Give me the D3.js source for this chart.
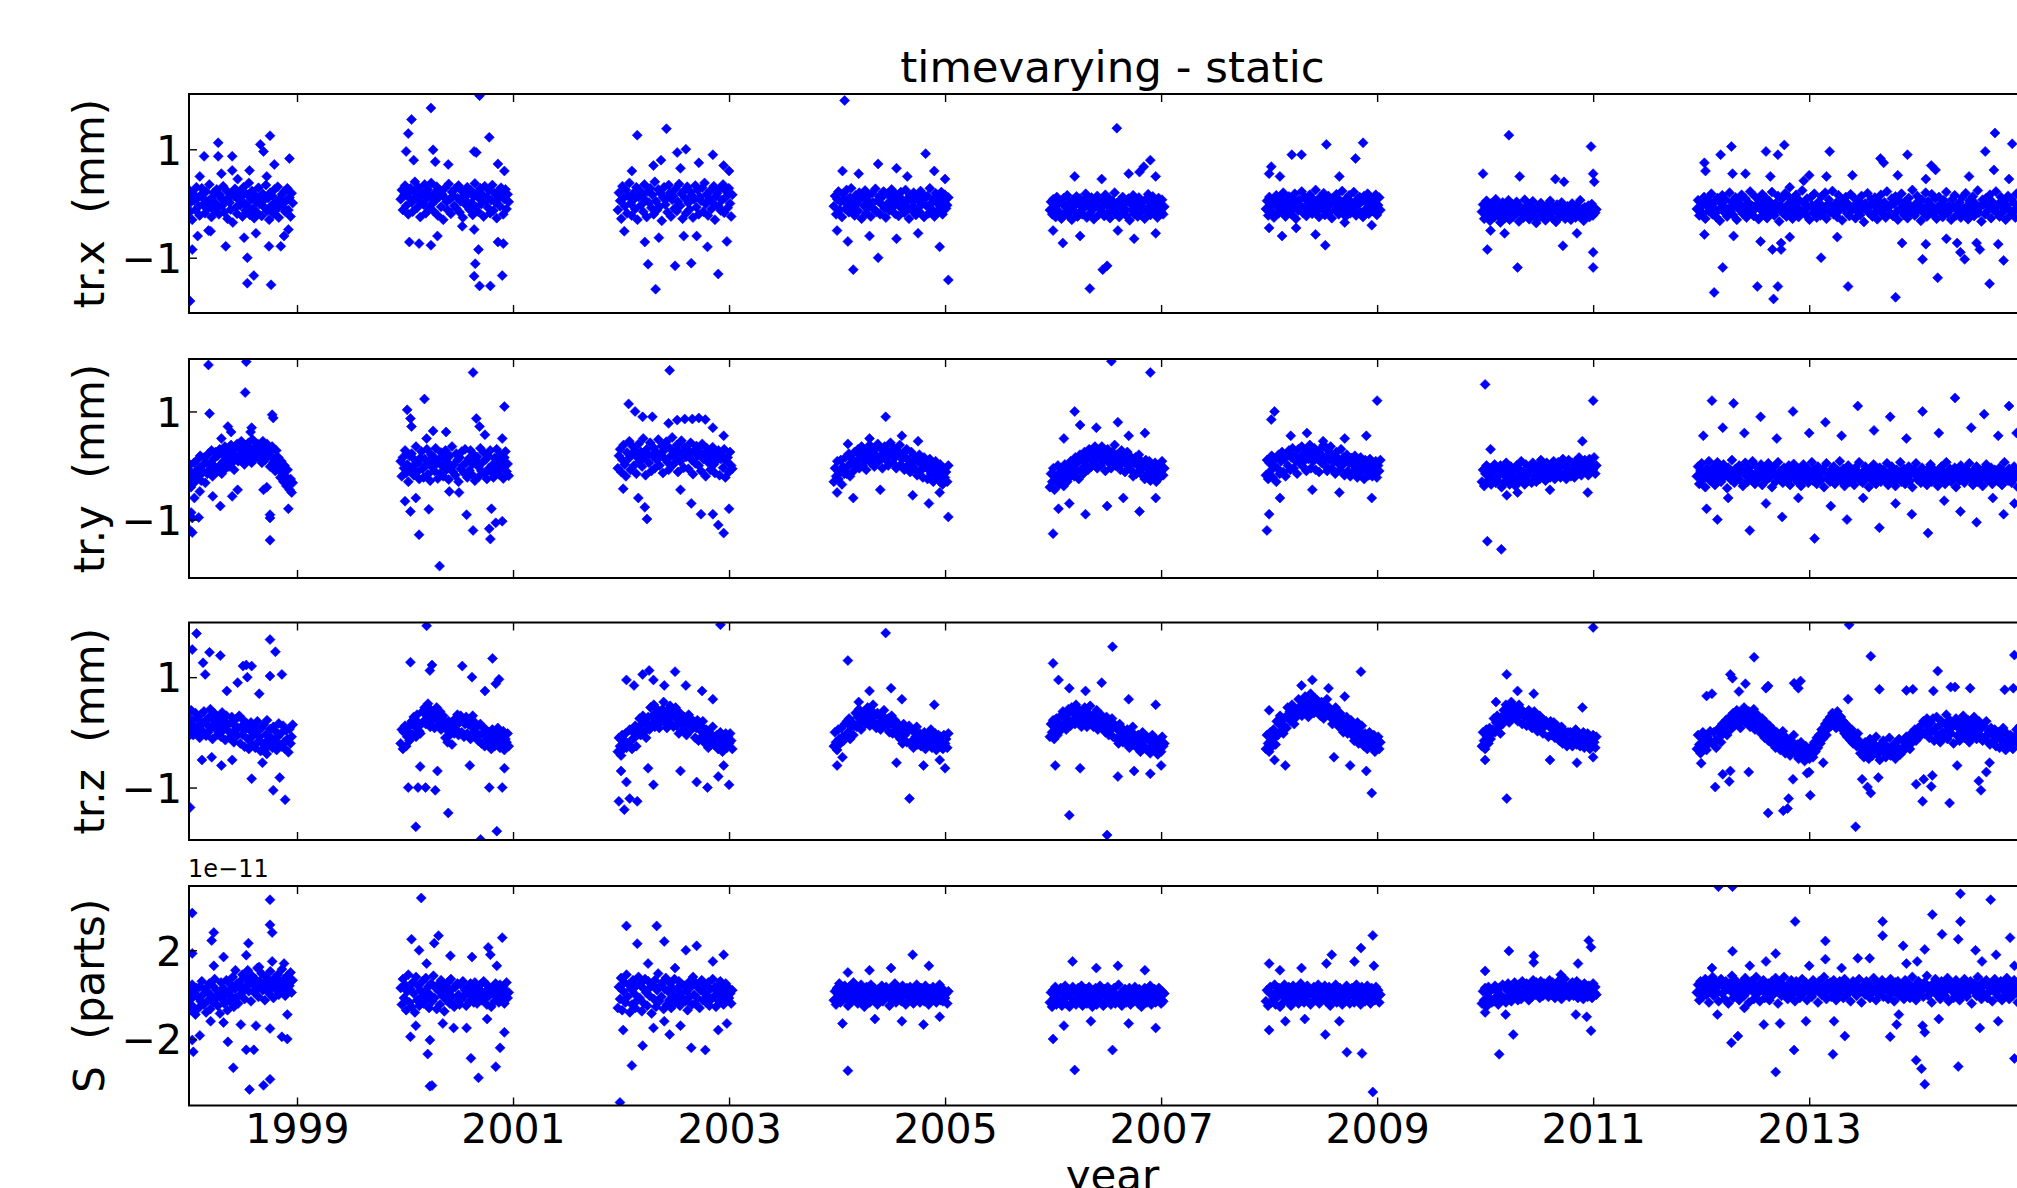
<!DOCTYPE html>
<html><head><meta charset="utf-8">
<script src="https://cdn.jsdelivr.net/npm/d3@7"></script>
<style>
body{margin:0;background:#fff}
svg{display:block;background:#fff}
text{font-family:"DejaVu Sans",sans-serif;fill:#000}
</style>
</head><body>
<svg id="c" width="2017" height="1188"></svg>
<script>
// ---------------- DATA ----------------
const chartTitle = "timevarying - static";
const xLabel = "year";
const xDomain = [1998.0, 2015.1];
const xTicks = [1999, 2001, 2003, 2005, 2007, 2009, 2011, 2013];
const panelLabels = ["tr.x  (mm)", "tr.y  (mm)", "tr.z  (mm)", "S  (parts)"];
const yDomains = [[-2.02, 2.02], [-2.08, 1.97], [-1.95, 1.99], [-5.0, 4.9]];
const yTickValues = [[-1, 1], [-1, 1], [-1, 1], [-2, 2]];
const sOffsetText = "1e\u221211"; // S values are in units of 1e-11
// observation campaigns (values sampled evenly between start and end)
const segStart = [1997.98, 1999.96, 2001.97, 2003.97, 2005.97, 2007.97, 2009.97, 2011.96];
const segEnd   = [1998.96, 2000.96, 2003.03, 2005.03, 2007.03, 2009.03, 2011.03, 2015.20];

// tr.x core values, hundredths of mm
const trx98 = [-8,12,25,-15,3,-30,18,6,-12,30,10,-5,-22,15,28,-2,8,-18,22,-10,4,35,-6,-25,12,20,-14,0,26,-8,-20,16,9,-4,32,-16,5,24,-28,11,2,-11,19,-35,14,27,-7,-19,8,21,-3,13,-24,30,0,-13,17,-6,38,-21,7,23,-9,-27,15,3,-17,29,-1,12,-23,18,6,-8,34,-14,10,-30,20,-4,14,-19,26,2,-11,31,-26,9,-2,17,-7,22,-15,5,28,-12,11,-24,19,1];
const trx00 = [8,25,-12,15,33,-4,18,-20,10,28,2,-15,22,40,12,-8,30,5,-25,16,20,-2,35,-18,9,26,-10,14,38,0,-14,19,6,31,-22,12,24,-6,17,-30,11,29,3,-12,36,8,-19,21,14,-4,27,-9,10,33,-16,4,23,-26,15,7,-3,30,18,-11,25,1,-21,13,37,-7,20,-15,9,28,-1,16,-24,32,5,12,-8,24,-18,6,34,-13,19,2,-27,22,10,-5,29,15,-20,8,26,-10,17,3];
const trx02 = [-12,20,5,-28,32,10,-5,25,-18,14,38,0,-22,18,8,-10,30,-30,12,24,-3,15,-15,35,6,-25,22,2,28,-8,16,-20,40,4,-12,26,-6,19,-32,11,30,-2,9,-16,34,20,-24,7,14,-9,27,-14,3,36,-4,18,-28,23,10,-18,31,1,-11,21,15,-26,8,33,-7,25,-20,12,5,29,-15,38,-1,17,-22,9,24,-10,2,32,-30,14,19,-5,27,-13,6,35,-17,11,22,-8,28,0,-24,16];
const trx04 = [-5,14,-20,8,22,-12,3,-25,17,6,-10,25,-2,-16,11,28,-8,4,-22,15,0,-14,20,9,-28,12,-4,24,-18,7,16,-6,-24,19,2,-11,27,-15,5,13,-20,10,-3,22,-9,-26,18,1,-13,14,26,-7,8,-19,16,-1,-23,12,21,-10,4,-17,25,-5,9,-28,15,-12,3,20,-8,-21,11,6,-15,23,-2,17,-25,10,-4,14,-18,28,0,-11,7,-24,19,2,-14,12,-6,21,-20,5,16,-9,-3,11];
const trx06 = [-12,3,-20,8,-6,-25,12,-2,-15,5,-28,0,10,-18,-8,15,-22,2,-10,-30,7,-4,-16,13,-24,-1,9,-13,-20,4,-7,18,-26,-3,6,-17,11,-11,-29,0,-5,14,-21,8,-9,-14,3,-23,16,-2,-18,10,-27,-6,5,-12,20,-19,1,-8,-25,7,-3,12,-15,-10,-22,4,9,-31,-1,-13,15,-20,6,-7,-24,11,-4,-16,2,-9,-28,8,-14,17,-5,-21,0,13,-18,-11,5,-26,10,-3,-15,7,-20,-6];
const trx08 = [-10,5,-22,12,-2,-15,8,-26,3,15,-7,-18,10,0,-12,20,-5,-24,6,-14,13,-1,-20,9,-9,18,-28,2,-13,7,-4,22,-17,-8,11,-23,4,-11,16,0,-19,8,-6,25,-15,1,-25,12,-3,-10,19,-21,5,-7,14,-16,-1,-27,9,3,-12,17,-8,-20,6,-4,23,-14,0,-24,10,-9,15,-18,2,-6,21,-13,-22,8,-2,12,-16,4,-25,14,-11,1,18,-19,-5,9,-14,6,-8,16,-21,-3,11,-12];
const trx10 = [-15,-2,-28,-8,5,-20,-12,-32,0,-18,-6,-25,8,-14,-22,-4,-35,-10,2,-19,-27,-7,-16,6,-30,-12,-1,-24,-9,-20,3,-15,-33,-5,-17,-11,-26,7,-13,-21,-3,-29,-8,-18,4,-23,-14,-36,-6,-10,-25,1,-16,-20,-9,-31,-4,-13,-22,5,-17,-27,-7,-12,-34,-2,-19,-11,-24,2,-15,-8,-28,-18,-5,-21,-13,-30,0,-16,-9,-26,-3,-14,-23,6,-19,-10,-32,-7,-12,-20,-4,-25,-15,-1,-22,-9,-17,-11];
const trx12 = [-10,6,-22,2,-5,-18,12,-28,-3,8,-14,-1,18,-20,-8,4,-25,10,-12,-32,0,15,-6,-17,7,-24,-9,20,-15,3,-21,-4,11,-30,5,-11,-2,16,-19,-7,9,-26,-13,1,22,-16,-5,-23,13,-8,-1,-29,6,-12,17,-20,-3,10,-27,-10,4,-15,21,-6,-22,0,-11,14,-33,-4,8,-18,-9,19,-24,-2,12,-14,-6,-28,3,-19,16,-8,-25,5,-13,24,-16,-1,-21,9,-7,-30,11,-3,-17,18,-11,-26,2,-9,-22,13,-5,-14,20,-28,-2,7,-16,-6,23,-20,-10,1,-25,15,-12,-4,-31,6,-8,12,-18,-1,-23,17,-13,-6,10,-27,-3,-15,4,-21,14,-9,-34,0,-11,19,-17,-5,8,-24,-2,11,-14,-29,5,-7,16,-19,-12,2,-26,22,-8,-4,-18,9,-23,-1,13,-15,-30,6,-10,18,-6,-21,3,-13,-27,10,-3,-16,25,-9,-22,0,14,-12,-5,-32,7,-17,-8,20,-24,4,-11,-2,17,-20,-14,9,-28,-6,12,-15,-1,-25,6,-9,21,-18,-4,-12,-30,8,-7,15,-22,-3,-13,2,-26,11,-10,-19,19,-5,-29,5,-15,-8,13,-23,0,-11,24,-17,-6,-33,7,-2,-20,10,-14,-4,16,-27,3,-12,-9,22,-18,-1,-24,12,-7,-15,5,-30,-3,14,-11,-21,8,-16,1,-26,18,-8,-13,-5,23,-19,-2,-28,9,-10,-22,4,-14,17,-6,-31,11,-9,-18,2,15,-24,-4,-12,7,-16];
// tr.x scattered points [year, mm]
const trxOut = [[1998.27,1.12],[1998.14,0.87],[1998.27,0.87],[1998.40,0.87],[1998.40,0.61],[1998.56,0.61],[1998.66,1.09],[1998.69,0.96],[1998.75,1.25],[1998.79,0.72],[1998.93,0.83],[1998.03,-0.85],[1998.20,-0.51],[1998.34,-0.79],[1998.51,-0.63],[1998.54,-1.0],[1998.60,-1.33],[1998.54,-1.47],[1998.76,-1.5],[1998.74,-0.79],[1998.85,-0.79],[1998.92,-0.48],[1998.01,-1.8],[1998.18,-0.5],[1998.1,0.5],[1998.3,0.55],[1998.62,-0.55],[1998.45,0.45],[1998.88,-0.6],[1998.08,-0.6],[1998.72,0.5],
[2000.24,1.76],[2000.06,1.55],[2000.03,1.29],[2000.69,1.99],[2000.78,1.22],[2000.01,0.96],[2000.26,0.99],[2000.64,0.96],[2000.66,0.94],[2000.08,0.8],[2000.28,0.77],[2000.4,0.72],[2000.86,0.73],[2000.92,0.6],[2000.04,-0.71],[2000.13,-0.74],[2000.24,-0.77],[2000.3,-0.6],[2000.53,-0.42],[2000.64,-0.48],[2000.68,-0.85],[2000.65,-1.11],[2000.64,-1.34],[2000.69,-1.52],[2000.79,-1.52],[2000.9,-1.33],[2000.86,-0.71],[2000.91,-0.74],
[2002.15,1.26],[2002.42,1.38],[2002.52,0.94],[2002.37,0.8],[2002.3,0.7],[2002.25,-1.12],[2002.32,-1.58],[2002.5,-1.15],[2002.22,-0.71],[2002.03,-0.51],[2002.35,-0.63],[2002.58,-0.6],[2002.6,1.0],[2002.72,0.75],[2002.85,0.9],[2002.95,0.7],[2003.0,0.6],[2002.65,-1.1],[2002.8,-0.8],[2002.9,-1.3],[2002.98,-0.7],[2002.7,-0.6],[2002.55,0.65],[2002.1,0.6],
[2004.07,1.9],[2004.05,0.6],[2004.2,0.55],[2004.38,0.73],[2004.55,0.65],[2004.65,0.5],[2004.82,0.92],[2004.9,0.6],[2005.0,0.45],[2004.15,-1.22],[2004.1,-0.7],[2004.3,-0.6],[2004.38,-1.0],[2004.55,-0.65],[2004.75,-0.55],[2004.95,-0.8],[2005.03,-1.41],[2004.0,-0.5],
[2006.59,1.39],[2006.84,0.68],[2006.8,0.58],[2006.9,0.8],[2006.95,0.5],[2006.2,0.5],[2006.45,0.45],[2006.7,0.55],[2006.34,-1.57],[2006.46,-1.22],[2006.5,-1.15],[2006.09,-0.73],[2006.0,-0.5],[2006.25,-0.6],[2006.6,-0.5],[2006.95,-0.55],[2006.75,-0.65],
[2008.02,0.68],[2008.0,0.55],[2008.21,0.9],[2008.1,0.5],[2008.3,0.9],[2008.53,1.09],[2008.87,1.12],[2008.8,0.83],[2008.65,0.5],[2008.43,-0.57],[2008.52,-0.77],[2008.7,-0.35],[2008.0,-0.45],[2008.12,-0.6],[2008.95,-0.4],[2008.25,-0.45],
[2010.22,1.26],[2009.98,0.55],[2010.32,0.5],[2010.65,0.45],[2010.73,0.4],[2010.98,1.05],[2011.0,0.55],[2011.01,0.4],[2010.02,-0.85],[2010.3,-1.18],[2010.72,-0.78],[2011.0,-0.9],[2011.0,-1.18],[2010.18,-0.55],[2010.85,-0.55],[2010.05,-0.5],
[2012.03,0.75],[2012.04,0.6],[2012.18,0.9],[2012.28,1.05],[2012.29,0.55],[2012.41,0.55],[2012.6,0.96],[2012.71,0.9],[2012.77,1.08],[2012.64,0.5],[2013.0,0.52],[2013.19,0.96],[2013.16,0.5],[2013.4,0.52],[2013.66,0.83],[2013.69,0.75],[2013.82,0.52],[2013.91,0.9],[2014.13,0.7],[2014.17,0.62],[2014.08,0.45],[2014.48,0.5],[2014.63,0.96],[2014.72,1.3],[2014.71,0.62],[2014.85,0.45],[2014.88,1.1],[2012.95,0.42],[2012.82,0.3],
[2012.03,-0.57],[2012.2,-1.18],[2012.12,-1.64],[2012.3,-0.6],[2012.52,-1.53],[2012.71,-1.53],[2012.67,-1.76],[2012.66,-0.85],[2012.74,-0.85],[2012.74,-0.73],[2012.55,-0.7],[2012.82,-0.62],[2013.11,-1.0],[2013.26,-0.62],[2013.36,-1.53],[2013.8,-1.73],[2013.86,-0.73],[2014.05,-1.03],[2014.08,-0.75],[2014.19,-1.37],[2014.27,-0.65],[2014.37,-0.73],[2014.4,-0.9],[2014.44,-1.03],[2014.55,-0.73],[2014.58,-0.85],[2014.67,-1.48],[2014.75,-0.75],[2014.8,-1.05]];

// tr.y core values, hundredths of mm
const try98 = [-35,-5,-28,2,-40,-15,-22,5,-30,-10,10,-20,-5,18,-28,0,-12,15,-32,5,-15,22,-8,5,28,-20,12,-2,25,-12,18,-10,30,2,-15,20,8,35,-5,12,28,-2,15,38,5,22,-8,30,12,40,8,32,20,45,15,28,2,38,25,10,42,18,30,5,48,25,12,35,20,40,15,38,28,5,45,22,10,32,40,18,25,-2,18,35,5,12,-10,28,0,15,-5,-22,8,-15,-30,0,-20,-38,-8,-28,-45,-25,-50,-32];
const try00 = [8,-20,15,-5,28,-14,2,-30,18,-8,22,-2,-18,10,35,-12,5,-25,14,26,-6,-22,12,0,30,-16,8,-28,20,-3,16,-10,32,4,-24,11,-15,24,-1,-20,14,28,-8,6,-26,18,-4,35,-12,2,-18,22,10,-30,15,-6,26,0,-14,30,5,-22,12,-9,28,-16,3,20,-28,9,16,-2,-20,32,-10,6,24,-15,11,-25,18,-5,28,-12,1,-22,14,-8,30,4,-16,20,-3,9,-24,15,26,-11,3,-19];
const try02 = [-5,18,30,-12,10,38,2,-20,24,12,45,-8,20,35,0,28,-15,15,40,8,25,-2,50,14,-18,30,22,5,42,-10,18,33,-5,26,10,48,0,20,36,-14,28,12,44,6,-8,32,18,52,2,24,14,38,-12,26,8,46,20,-4,34,16,30,-6,22,42,10,-16,28,4,36,18,0,26,-10,40,12,20,-20,32,6,24,-8,16,34,2,-14,22,10,28,-18,12,20,-4,30,-22,8,15,-12,25,0,-6];
const try04 = [-30,-5,-20,8,-25,-12,10,-35,-2,-15,15,-15,-2,22,-20,5,12,-10,25,0,8,30,-5,18,35,0,22,10,-8,28,20,38,5,25,12,-2,32,18,40,8,15,30,-5,22,35,10,28,0,18,42,25,5,32,15,-5,28,20,38,2,12,22,-8,15,30,0,10,-12,25,5,18,-5,12,-18,8,20,-10,2,-22,15,-2,5,-25,-8,12,-15,0,-30,-5,8,-20,-10,-28,2,-18,-35,-5,-22,-12,-30,0];
const try06 = [-40,-15,-30,-5,-45,-20,-28,0,-35,-12,-25,-8,-38,2,-18,-30,-5,-22,8,-15,-2,-20,15,-10,5,-25,20,-8,10,-15,25,0,15,-8,30,10,-2,22,5,35,12,-5,28,18,0,35,8,22,-10,15,30,5,18,-5,25,12,38,0,20,8,15,-8,28,5,20,-12,10,25,-2,18,-8,12,-20,5,15,-15,0,20,-10,8,-18,2,-25,10,-5,-15,8,-28,0,-12,-20,5,-30,-8,0,-22,-12,8,-18,-5];
const try08 = [-18,10,-25,5,-10,18,-22,0,12,-30,-5,20,-15,8,25,-12,12,-20,22,0,28,-8,15,32,-5,18,8,-15,30,5,15,35,-2,22,10,-10,28,12,38,-5,20,8,32,-8,25,12,-12,30,5,18,38,0,15,-10,28,10,35,-5,18,8,-15,25,5,12,-8,30,0,15,-18,10,20,-10,5,-20,14,2,-12,18,-5,-22,8,-15,15,-8,0,-25,10,-10,2,-18,12,-5,-20,5,-12,8,-22,0,-10,10];
const try10 = [-30,-8,-38,-15,0,-28,-20,-5,-35,-12,-25,2,-32,-10,-28,-18,0,-40,-15,-5,-30,5,-22,-12,-35,-2,-18,-28,-8,-38,0,-20,-30,-8,8,-25,-12,-35,2,-18,-28,-10,-2,-32,5,-20,-8,-30,-15,0,-25,10,-12,-20,-2,-28,5,-15,-8,-22,2,-15,8,-25,-5,-18,6,-12,-22,0,12,-15,0,-25,-5,10,-12,-20,5,-8,-22,8,-2,-15,15,-8,-18,4,-12,10,-5,5,-18,12,-10,2,-8,15,-15,0];
const try12 = [-20,-2,-34,-10,4,-26,-14,-40,-6,-18,8,-28,-12,-22,-2,-36,-16,6,-24,-8,-30,-14,2,-20,-10,-42,-4,-18,-26,10,-12,-32,-6,-22,-16,0,-28,-8,-38,-14,5,-20,-30,-4,-12,-24,8,-18,-34,-2,-26,-10,-16,2,-36,-20,-6,-28,-12,4,-22,-8,-40,-14,-2,-30,-18,6,-24,-10,-16,-32,-4,-20,-12,-28,0,-36,-8,-18,3,-24,-14,-30,-6,-20,-38,-10,2,-26,-16,-4,-32,-12,-22,6,-28,-8,-18,-34,-2,-20,-14,-26,-6,-40,-12,4,-24,-16,-30,-8,-20,-2,-34,-14,-24,-10,8,-28,-18,-6,-38,-12,-22,0,-30,-16,-8,-26,-36,-4,-20,-12,6,-28,-18,-32,-10,-2,-24,-14,-40,-6,-20,-28,2,-16,-34,-10,-22,-4,-30,-14,-8,-26,-18,4,-36,-12,-20,-2,-28,-16,-38,-8,-24,-12,6,-30,-18,-6,-34,-10,-22,-2,-28,-14,-40,-8,-16,4,-26,-20,-10,-32,-4,-18,-24,-12,-36,-6,-22,2,-30,-14,-8,-26,-16,-38,-10,-20,-2,-28,-12,-34,6,-22,-16,-6,-30,-14,-24,-4,-40,-18,-10,-28,0,-20,-12,-32,-6,-22,-16,4,-26,-14,-36,-8,-20,-2,-30,-12,-24,-10,-38,-6,-18,2,-28,-14,-22,-4,-34,-16,-8,-26,-12,-30,-4,-20,-36,-10,6,-24,-16,-28,-6,-18,-32,-12,-2,-22,-14,-40,-8,-26,-18,4,-20,-30,-10,-16,-24,-4,-34,-12,-22,-6,-28,0,-18,-36,-10,-14,-26,-2,-20,-12];
// tr.y scattered points [year, mm]
const tryOut = [[1998.18,1.86],[1998.53,1.92],[1998.52,1.35],[1998.19,0.96],[1998.77,0.94],[1998.78,0.88],[1998.36,0.72],[1998.39,0.62],[1998.58,0.7],[1998.57,0.62],[1998.1,-0.48],[1998.22,-0.57],[1998.29,-0.75],[1998.40,-0.57],[1998.69,-0.45],[1998.72,-0.4],[1998.75,-0.91],[1998.75,-0.97],[1998.75,-1.38],[1998.92,-0.8],[1998.02,-0.87],[1998.03,-0.97],[1998.03,-1.24],[1998.01,-1.2],[1998.09,-0.96],[1998.05,-0.6],[1998.3,0.5],[1998.45,-0.45],
[2000.18,1.23],[2000.02,1.03],[2000.05,0.87],[2000.06,0.72],[2000.26,0.64],[2000.38,0.62],[2000.63,1.72],[2000.66,0.87],[2000.69,0.72],[2000.92,1.09],[2000.9,0.5],[2000.74,0.57],[2000.0,-0.66],[2000.05,-0.85],[2000.13,-1.28],[2000.32,-1.86],[2000.22,-0.81],[2000.57,-0.91],[2000.63,-1.2],[2000.79,-1.36],[2000.78,-1.17],[2000.84,-1.06],[2000.9,-1.03],[2000.8,-0.8],[2000.41,-0.48],[2000.1,-0.6],[2000.2,0.5],[2000.5,-0.5],
[2002.45,1.76],[2002.07,1.14],[2002.13,1.0],[2002.2,0.9],[2002.29,0.9],[2002.44,0.78],[2002.52,0.84],[2002.59,0.86],[2002.66,0.86],[2002.72,0.88],[2002.78,0.85],[2002.85,0.7],[2002.95,0.55],[2002.24,-0.99],[2002.22,-0.77],[2002.02,-0.43],[2002.16,-0.6],[2002.55,-0.45],[2002.74,-0.9],[2002.9,-1.1],[2002.95,-1.25],[2002.85,-0.9],[2002.65,-0.7],[2003.0,-0.8],
[2004.45,0.9],[2004.3,0.5],[2004.6,0.55],[2004.75,0.45],[2004.1,0.4],[2004.0,-0.5],[2004.15,-0.6],[2004.4,-0.45],[2004.7,-0.55],[2004.85,-0.7],[2005.03,-0.95],[2004.95,-0.5],
[2006.54,1.93],[2006.9,1.72],[2006.2,1.0],[2006.25,0.75],[2006.4,0.7],[2006.6,0.8],[2006.7,0.55],[2006.1,0.5],[2006.85,0.6],[2006.0,-1.26],[2006.05,-0.8],[2006.15,-0.7],[2006.3,-0.9],[2006.5,-0.75],[2006.65,-0.6],[2006.8,-0.85],[2006.95,-0.6],
[2008.05,1.0],[2008.02,0.85],[2009.0,1.2],[2008.2,0.55],[2008.35,0.6],[2008.5,0.45],[2008.7,0.5],[2008.9,0.55],[2007.98,-1.2],[2008.0,-0.9],[2008.1,-0.6],[2008.4,-0.45],[2008.65,-0.5],[2008.95,-0.6],
[2010.0,1.5],[2011.0,1.2],[2010.05,0.3],[2010.9,0.45],[2010.02,-1.4],[2010.15,-1.55],[2010.3,-0.5],[2010.6,-0.45],[2010.95,-0.5],[2010.2,-0.55],
[2012.02,0.55],[2012.1,1.2],[2012.2,0.7],[2012.3,1.15],[2012.4,0.6],[2012.55,0.9],[2012.7,0.5],[2012.85,1.0],[2013.0,0.6],[2013.15,0.8],[2013.3,0.55],[2013.45,1.1],[2013.6,0.65],[2013.75,0.9],[2013.9,0.5],[2014.05,1.0],[2014.2,0.6],[2014.35,1.25],[2014.5,0.7],[2014.62,0.95],[2014.75,0.55],[2014.85,1.1],[2014.92,0.6],
[2012.05,-0.8],[2012.15,-1.0],[2012.25,-0.6],[2012.45,-1.2],[2012.6,-0.7],[2012.75,-0.95],[2012.9,-0.6],[2013.05,-1.35],[2013.2,-0.75],[2013.35,-1.0],[2013.5,-0.6],[2013.65,-1.15],[2013.8,-0.7],[2013.95,-0.9],[2014.1,-1.25],[2014.25,-0.65],[2014.4,-0.85],[2014.55,-1.05],[2014.7,-0.6],[2014.8,-0.9],[2014.9,-0.7]];

// tr.z core values, hundredths of mm
const trz98 = [30,-8,18,5,40,22,-5,12,35,0,25,8,-10,32,15,2,38,20,-6,14,0,28,42,10,-12,22,34,6,18,-4,26,12,-8,36,4,20,-14,30,14,2,-10,18,28,0,-18,12,24,-6,8,30,-20,10,-4,22,-26,6,16,-12,-30,4,18,-22,-6,12,-28,0,20,-16,-8,-34,8,-20,14,-30,-4,22,-14,-24,6,-10,-28,10,-16,2,-32,-8,16,-22,-2,-26,12,-18,-30,4,-12,-36,6,-20,-8,14];
const trz00 = [-20,5,-30,0,12,-25,-8,10,-15,-2,20,-5,28,10,-8,32,18,2,-2,15,38,20,45,15,30,52,25,10,40,22,35,8,28,45,12,20,38,5,25,30,15,-10,5,-18,20,-5,8,-22,12,-2,25,5,32,-5,18,30,0,22,-8,15,28,-2,15,22,-12,10,30,0,18,-8,10,-15,-5,15,-20,-2,8,-25,5,-12,-22,0,-15,-30,5,-8,-25,-2,-18,8,-10,-28,-5,-20,2,-32,-12,-18,-2,-25];
const trz02 = [-35,-10,-25,-42,-5,-30,-15,-2,-28,-20,-22,5,-15,-30,0,-10,12,-25,-5,8,25,-5,15,30,0,20,-10,12,28,5,45,15,30,50,10,35,22,40,8,28,20,42,55,18,32,8,40,25,48,15,38,10,30,45,12,22,-2,35,28,15,5,28,20,-5,15,32,2,25,10,18,18,-10,8,22,-15,5,12,-8,20,-2,-20,5,-12,-28,0,-5,-22,10,-15,-8,-25,-5,-30,-12,0,-22,-35,-10,-18,-2,-28,-8,-20,-2,-15,-30];
const trz04 = [-25,0,-18,-32,5,-12,-20,8,-8,-15,15,-8,20,0,25,-12,10,18,-5,12,35,10,28,42,18,5,30,22,38,15,22,45,30,12,40,25,50,18,32,8,35,15,28,5,32,20,40,10,22,12,25,0,18,30,-2,12,22,5,-5,15,10,-12,5,-20,15,-5,8,-18,2,12,-20,5,-15,-28,0,-8,10,-22,-10,-2,-25,-5,-18,0,-30,-12,-2,-20,-15,5,-28,-10,-22,-2,-32,-15,-5,-25,-8,-18,-30,-5,-20,-12,-28,-2];
const trz06 = [-8,15,0,22,-12,10,25,-5,18,2,30,10,38,15,25,5,32,42,20,12,45,22,35,15,50,30,20,40,28,10,38,18,45,28,10,35,25,48,15,30,10,30,20,40,5,25,15,32,8,22,20,0,28,12,-5,18,5,25,-8,15,10,-12,5,-20,15,-5,8,-18,2,-8,-20,5,-10,-28,0,-15,10,-22,-5,-12,-28,-5,-20,-35,-10,0,-25,-15,-30,-8,-30,-10,-38,-18,-5,-25,-32,-12,-22,-40,-15,-28,-35,-8,-25,-20];
const trz08 = [-30,-5,-20,-35,0,-15,-25,5,-10,-22,20,-5,15,30,2,25,-2,12,28,8,45,25,38,20,50,30,15,42,28,35,60,35,48,30,55,42,65,38,50,28,55,70,40,52,35,62,45,58,38,48,30,55,42,25,50,38,60,35,45,28,40,15,32,22,45,18,28,10,35,25,25,0,18,8,28,-2,15,5,22,-5,10,-15,5,-8,18,-20,2,-10,12,-5,-25,-2,-15,-30,-8,0,-20,-12,-28,-5,-35,-15,-22,-8,-30,-18];
const trz10 = [-25,0,-15,-30,5,-8,-20,8,-12,-2,5,25,0,18,30,8,22,-2,28,15,40,22,50,30,45,18,35,55,28,38,45,25,38,20,50,32,42,15,35,28,35,12,28,40,18,30,8,25,38,15,25,2,18,30,8,15,-2,22,12,20,15,-8,10,20,-5,5,18,-10,2,12,5,-15,-2,10,-20,-8,2,-12,-25,0,-20,0,-15,-25,-5,-10,5,-22,-12,-2,-25,-5,-18,0,-28,-12,-20,-2,-15,-30,-10,-22,-5,-18,-28,-8];
const trz12 = [-30,-5,-22,-38,-10,0,-25,-15,-32,-8,-20,2,-18,-20,0,-15,-28,5,-10,8,-18,15,-2,10,22,-5,18,28,5,20,35,12,25,40,15,30,8,38,22,45,18,30,25,38,10,30,18,42,5,22,32,8,15,-2,25,10,-10,18,0,-15,12,-5,-20,5,-12,-28,0,-18,-8,-32,-15,2,-25,-38,-10,-28,-20,-42,-15,-32,-5,-25,-40,-22,-48,-30,-18,-45,-35,-52,-25,-40,-30,-48,-40,-25,-45,-18,-35,-10,-28,-5,-20,5,-12,0,15,-5,22,8,28,12,35,18,30,8,38,22,12,28,5,20,-2,15,-8,10,0,-15,5,-20,-5,-12,-25,-2,-15,-38,-22,-30,-45,-18,-35,-25,-48,-12,-30,-42,-20,-35,-8,-40,-28,-50,-22,-32,-15,-38,-45,-25,-30,-10,-42,-28,-35,-20,-48,-25,-32,-12,-40,-30,-35,-18,-28,-8,-25,-12,-30,-2,-18,-10,5,-15,-5,8,-8,12,0,20,-2,15,25,5,-10,18,2,25,-15,8,28,-5,12,-18,20,0,-8,15,32,-12,5,22,-2,10,-20,14,25,-6,8,-15,18,2,30,-10,12,-4,22,-18,6,16,-8,28,0,-12,10,20,-5,8,-15,12,-8,20,-15,2,-22,8,-5,-18,5,-25,-10,0,-28,-6,-15,8,-20,-32,-2,-12,-25,-5,-18,-30,-8,-15,5,-20,-8,12,-25,0,-12,15,-5,-18,8,-2,-28,10,-10,3,-15,18,-6,-22,2,12,-12,-4,6,-16];
// tr.z scattered points [year, mm]
const trzOut = [[1998.07,1.79],[1998.03,1.5],[1998.19,1.45],[1998.29,1.39],[1998.13,1.26],[1998.5,1.2],[1998.53,1.22],[1998.58,1.2],[1998.75,1.68],[1998.8,1.46],[1998.15,1.05],[1998.54,1.0],[1998.75,1.02],[1998.86,1.05],[1998.45,0.9],[1998.35,0.75],[1998.65,0.7],[1998.01,-1.36],[1998.21,-0.45],[1998.40,-0.5],[1998.58,-0.84],[1998.78,-1.05],[1998.84,-0.82],[1998.89,-1.22],[1998.72,-0.39],[1998.12,-0.5],[1998.3,-0.6],[1998.68,-0.55],
[2000.2,1.93],[2000.05,1.27],[2000.25,1.22],[2000.23,1.12],[2000.53,1.2],[2000.81,1.34],[2000.62,1.0],[2000.87,0.96],[2000.84,0.88],[2000.74,0.75],[2000.03,-1.0],[2000.12,-1.0],[2000.19,-1.0],[2000.28,-1.05],[2000.1,-1.71],[2000.4,-1.46],[2000.85,-1.79],[2000.78,-1.0],[2000.9,-1.0],[2000.7,-1.94],[2000.3,-0.7],[2000.14,-0.62],[2000.6,-0.6],[2000.92,-0.65],
[2002.05,0.95],[2002.12,0.85],[2002.2,1.05],[2002.26,1.12],[2002.3,0.95],[2002.4,0.85],[2002.5,1.1],[2002.6,0.85],[2002.75,0.75],[2002.92,1.95],[2002.85,0.6],[2002.0,-0.7],[2001.98,-1.25],[2002.03,-1.4],[2002.08,-1.2],[2002.15,-1.25],[2002.05,-0.9],[2002.25,-0.65],[2002.3,-0.95],[2002.55,-0.7],[2002.7,-0.9],[2002.8,-1.0],[2002.9,-0.8],[2003.0,-0.95],[2002.95,-0.6],
[2004.1,1.3],[2004.45,1.8],[2004.3,0.75],[2004.5,0.8],[2004.6,0.6],[2004.2,0.55],[2004.9,0.5],[2004.67,-1.2],[2004.0,-0.6],[2004.05,-0.45],[2004.55,-0.55],[2004.8,-0.6],[2005.0,-0.65],[2004.95,-0.5],
[2006.0,1.25],[2006.05,0.95],[2006.55,1.55],[2006.15,0.8],[2006.3,0.75],[2006.45,0.9],[2006.7,0.6],[2006.95,0.5],[2006.15,-1.5],[2006.25,-0.65],[2006.5,-1.86],[2006.6,-0.8],[2006.75,-0.7],[2006.9,-0.75],[2007.0,-0.6],[2006.02,-0.6],
[2008.85,1.1],[2008.3,0.85],[2008.4,0.95],[2008.55,0.8],[2008.7,0.65],[2008.0,0.4],[2008.95,-1.1],[2008.75,-0.6],[2008.9,-0.7],[2008.05,-0.5],[2008.15,-0.6],[2008.6,-0.45],
[2010.2,1.05],[2011.0,1.9],[2010.3,0.75],[2010.45,0.7],[2010.1,0.55],[2010.9,0.45],[2010.2,-1.2],[2010.0,-0.5],[2010.6,-0.5],[2010.85,-0.55],[2011.0,-0.45],
[2012.49,1.36],[2012.27,1.05],[2012.29,0.98],[2013.57,1.38],[2014.19,1.11],[2012.05,0.66],[2012.1,0.7],[2012.41,0.88],[2012.35,0.74],[2012.6,0.8],[2012.62,0.84],[2012.86,0.89],[2012.92,0.93],[2012.9,0.8],[2013.65,0.78],[2013.9,0.76],[2013.96,0.78],[2014.15,0.75],[2014.31,0.82],[2014.35,0.82],[2014.49,0.8],[2014.81,0.77],[2014.9,1.4],[2014.89,0.8],[2013.37,1.95],[2013.36,0.6],
[2012.0,-0.56],[2012.13,-0.99],[2012.2,-0.76],[2012.27,-0.7],[2012.26,-0.89],[2012.44,-0.72],[2012.62,-1.46],[2012.76,-1.42],[2012.8,-1.38],[2012.81,-1.2],[2012.85,-0.85],[2012.98,-0.74],[2013.0,-0.72],[2013.01,-1.14],[2013.13,-0.55],[2013.43,-1.71],[2013.49,-0.85],[2013.54,-0.99],[2013.57,-1.1],[2013.64,-0.82],[2013.99,-0.94],[2014.06,-0.85],[2014.05,-1.25],[2014.13,-0.98],[2014.14,-0.78],[2014.3,-1.28],[2014.37,-0.6],[2014.57,-0.88],[2014.59,-1.05],[2014.64,-0.72],[2014.67,-0.55]];

// S core values, hundredths of 1e-11
const sc98 = [-40,20,-75,5,-20,45,-55,10,-90,30,-10,-60,35,-30,60,0,-45,25,-80,15,-25,50,-65,-5,40,-35,70,-15,20,-50,8,-85,55,-20,30,-40,-2,65,-70,12,-30,45,-10,80,-55,25,-15,50,-40,35,60,5,90,30,-20,75,40,110,15,55,-30,85,45,10,70,25,120,-10,60,35,95,20,50,-25,80,40,65,5,105,30,55,-15,75,45,20,90,0,60,35,115,25,70,-5,50,85,15,40,100,10,65];
const sc00 = [30,-45,70,-15,45,-70,15,90,-35,25,-55,55,5,-80,80,-25,40,-50,20,-10,60,-40,10,75,-20,35,-60,0,50,-30,85,-15,30,-65,45,15,-45,65,-5,25,-75,40,-25,55,10,-40,70,-10,30,-55,35,-35,50,0,-45,45,-20,60,-5,20,-50,30,15,-30,50,-10,25,-35,55,5,-40,35,-15,45,-25,10,60,-20,15,-45,40,-5,25,-55,30,5,-30,50,-10,20,-35,45,0,-20,35,-40,15,55,-15,10];
const sc02 = [-60,35,-20,75,-70,15,55,-35,90,-10,45,-80,25,-45,65,5,-60,40,-25,80,-15,50,-75,30,-40,70,10,-50,60,-5,35,-85,45,-20,65,-55,20,95,-30,40,-10,55,-65,25,75,-45,15,-25,50,-60,30,-5,70,-35,25,-15,60,-50,5,45,-20,40,-30,15,-70,55,-10,35,-45,80,0,-40,50,-15,30,-60,20,65,-25,10,45,-35,-5,55,-50,25,-20,70,-10,35,-55,15,40,-30,60,-5,25,-45,10,50,-25,35,-15,5,-40,20];
const sc04 = [-25,15,-45,30,-10,50,-35,5,25,-20,40,-15,10,-50,35,-5,20,-30,55,0,-20,30,-40,15,-10,45,-30,25,-55,10,35,-15,20,-35,45,5,-25,30,-10,15,-45,25,0,-20,40,-30,10,-15,35,-5,20,-50,30,-25,15,-10,50,-35,5,25,-20,10,-30,40,-5,20,-45,30,0,-15,35,-25,15,-40,25,-10,45,-20,5,-35,30,-5,20,-30,40,-15,10,-45,25,0,-20,35,-10,15,-35,25,-5,45,-25,10,-30,20,-15,5,-40,15];
const sc06 = [-35,10,-55,20,-15,35,-45,0,15,-30,30,-50,5,-20,40,-40,-5,25,-55,10,-15,35,-30,20,-45,5,30,-25,-10,40,-50,15,-20,25,-40,0,35,-35,10,-55,20,-15,30,-45,5,-25,40,-10,15,-50,25,-5,-35,35,-20,10,-45,20,-15,30,-40,0,-25,45,-30,5,-50,15,-10,25,-35,10,-20,30,-45,-5,20,-30,35,-15,5,-40,25,-10,-55,15,-25,30,-5,-35,20,-20,40,-45,0,-15,25,-35,10,-25,30,-10,-40,15,-30,5];
const sc08 = [-30,20,-50,10,35,-35,0,-15,45,-45,15,-10,30,-55,5,25,-35,45,-20,10,-30,35,-5,-50,20,40,-25,0,-15,30,-40,15,50,-20,5,-35,25,-10,40,-30,10,-45,20,0,35,-25,15,-15,45,-40,5,30,-20,-5,40,-30,20,-10,35,-50,10,25,-20,0,45,-35,15,-25,30,-10,-45,20,5,-30,40,-15,25,-40,10,30,-5,-35,15,45,-25,0,20,-45,35,-10,25,-30,5,40,-20,10,-40,30,-15,15,-25,35,-5,20,-35,0];
const sc10 = [-40,15,-25,30,-55,5,35,-15,20,-35,25,-30,40,-10,15,-45,30,0,-20,45,-15,35,-35,20,50,-5,25,-30,40,5,55,-10,30,-25,45,10,-20,60,0,35,-5,50,15,-25,45,30,-10,65,20,0,55,10,40,-15,60,25,-5,50,35,5,45,-10,65,20,0,55,30,-15,40,10,60,5,35,-20,50,25,70,0,30,15,-10,45,20,55,-5,35,10,60,-15,30,45,0,25,-20,50,15,35,-10,40,5,30,-15,50,10,35,0];
const sc12 = [10,45,-25,60,15,-10,40,70,0,25,-35,50,20,80,-5,30,55,10,-30,45,70,5,35,-20,60,25,-40,50,15,85,-15,30,65,0,40,-25,20,55,35,-5,75,10,45,-35,25,60,15,-20,40,80,5,30,-30,55,20,65,-15,35,10,50,-25,25,60,0,45,75,15,-40,30,55,-5,20,80,35,10,-20,50,25,65,0,30,-30,60,15,40,-15,20,70,5,35,55,-25,25,10,50,-10,65,30,15,45,-35,60,20,0,35,80,10,-20,50,25,55,-10,30,65,15,-25,45,5,60,20,40,-15,70,25,0,50,15,-30,35,60,10,45,-5,25,70,15,-35,40,30,0,60,20,50,-15,35,10,75,25,-25,55,0,45,15,65,-10,30,50,20,-20,40,70,5,35,-30,55,25,60,-5,15,45,20,-20,65,30,5,50,-15,35,80,10,40,-25,25,60,0,45,20,-10,55,30,85,-5,35,15,-35,50,25,70,0,40,10,-20,60,30,45,-5,20,75,-30,35,55,15,-15,40,65,5,30,-25,50,20,0,70,35,-10,45,15,60,-40,25,50,10,-5,80,30,20,-20,55,40,0,65,-15,35,15,50,-30,25,70,5,45,-10,30,60,-25,20,40,0,75,15,-20,50,25,-5,65,35,10,-35,45,20,55,0,30,85,-15,40,15,60,-10,25,50,5,35,-25,70,20,45,-5,30,55,10,40];
// S scattered points [year, 1e-11]
const scOut = [[1998.75,4.28],[1998.03,3.68],[1998.75,3.15],[1998.77,2.8],[1998.23,2.8],[1998.21,2.44],[1998.55,2.32],[1998.53,1.78],[1998.03,1.86],[1998.32,1.7],[1998.23,1.3],[1998.65,1.25],[1998.77,1.5],[1998.88,1.4],[1998.43,1.1],[1998.04,-2.58],[1998.03,-2.05],[1998.1,-1.84],[1998.2,-1.2],[1998.32,-1.26],[1998.36,-2.13],[1998.41,-3.3],[1998.53,-2.49],[1998.6,-2.49],[1998.56,-4.28],[1998.69,-4.09],[1998.75,-3.82],[1998.86,-1.9],[1998.91,-2.0],[1998.75,-1.53],[1998.62,-1.4],[1998.91,-0.9],[1998.48,-1.35],
[2000.15,4.36],[2000.06,2.5],[2000.27,2.32],[2000.31,2.66],[2000.9,2.57],[2000.77,2.13],[2000.79,1.8],[2000.62,1.7],[2000.13,2.0],[2000.42,1.75],[2000.2,1.4],[2000.85,1.3],[2000.05,-1.9],[2000.23,-2.05],[2000.21,-2.68],[2000.23,-4.13],[2000.25,-4.1],[2000.61,-2.87],[2000.68,-3.75],[2000.84,-3.25],[2000.88,-2.4],[2000.92,-1.7],[2000.57,-1.5],[2000.76,-1.1],[2000.35,-1.3],[2000.45,-1.5],[2000.1,-1.4],
[2002.05,3.1],[2002.33,3.1],[2002.15,2.3],[2002.4,2.4],[2002.6,2.0],[2002.7,2.2],[2002.85,1.5],[2002.95,1.8],[2002.25,1.4],[2002.5,1.2],[2001.99,-4.86],[2002.1,-3.2],[2002.2,-2.3],[2002.3,-1.5],[2002.45,-1.8],[2002.55,-1.4],[2002.65,-2.4],[2002.78,-2.5],[2002.9,-1.6],[2002.98,-1.3],[2002.02,-1.6],[2002.4,-1.2],
[2004.7,1.8],[2004.5,1.2],[2004.3,1.1],[2004.85,1.3],[2004.1,1.0],[2004.1,-3.43],[2004.05,-1.3],[2004.35,-1.1],[2004.6,-1.2],[2004.95,-1.0],[2004.8,-1.35],
[2006.18,1.5],[2006.4,1.2],[2006.6,1.3],[2006.85,1.1],[2006.2,-3.4],[2006.0,-2.0],[2006.1,-1.4],[2006.35,-1.2],[2006.55,-2.5],[2006.7,-1.3],[2006.95,-1.5],
[2008.96,2.67],[2008.85,2.1],[2008.79,1.5],[2008.97,1.3],[2008.58,1.8],[2008.53,1.4],[2008.0,1.4],[2008.1,1.1],[2008.3,1.2],[2008.52,-1.8],[2008.72,-2.6],[2008.86,-2.65],[2008.96,-4.39],[2008.33,-1.1],[2008.0,-1.6],[2008.15,-1.2],[2008.65,-1.2],
[2010.0,1.07],[2010.22,1.97],[2010.45,1.75],[2010.45,1.45],[2010.86,1.4],[2010.96,2.44],[2010.98,2.14],[2010.7,0.9],[2010.13,-2.69],[2010.26,-1.8],[2010.19,-0.9],[2010.84,-0.9],[2010.94,-1.0],[2010.98,-1.63],[2010.0,-0.8],
[2012.16,4.87],[2012.29,4.87],[2012.87,3.3],[2012.29,1.96],[2012.69,1.85],[2013.15,2.42],[2013.68,3.3],[2013.68,2.66],[2013.87,2.2],[2014.14,3.61],[2014.23,2.72],[2014.4,4.55],[2014.4,3.3],[2014.38,2.5],[2014.68,4.28],[2014.86,2.57],[2014.07,2.04],[2014.54,2.0],[2014.73,1.8],[2013.45,1.64],[2013.56,1.64],[2013.15,1.6],[2012.1,1.2],[2012.45,1.3],[2012.6,1.5],[2013.0,1.3],[2013.3,1.2],[2013.9,1.4],[2014.0,1.5],[2014.6,1.5],[2014.9,1.3],
[2012.28,-2.17],[2012.34,-1.87],[2012.69,-3.49],[2012.86,-2.5],[2013.22,-2.69],[2013.33,-1.87],[2013.75,-1.9],[2013.99,-2.96],[2014.04,-3.34],[2014.07,-4.04],[2014.07,-1.7],[2014.05,-1.4],[2014.38,-3.24],[2014.58,-1.5],[2014.9,-2.88],[2012.97,-1.2],[2012.58,-1.35],[2012.73,-1.3],[2013.23,-1.2],[2013.81,-1.35],[2013.83,-0.9],[2012.4,-0.6],[2012.15,-0.9],[2014.2,-1.1],[2014.75,-1.2]];

// ---------------- DRAWING ----------------
const W = 2017, H = 1188;
const plotLeft = 189, plotRight = 2036;
const panelTop = [94, 359, 622.5, 886];
const panelBottom = [313, 578, 840, 1105.5];
const tickFont = 41, labelFont = 42, titleFont = 43.5;
const blue = "#0000ff";

const panels = [
  {label: panelLabels[0], bands: [trx98, trx00, trx02, trx04, trx06, trx08, trx10, trx12], out: trxOut, unit: 0.01},
  {label: panelLabels[1], bands: [try98, try00, try02, try04, try06, try08, try10, try12], out: tryOut, unit: 0.01},
  {label: panelLabels[2], bands: [trz98, trz00, trz02, trz04, trz06, trz08, trz10, trz12], out: trzOut, unit: 0.01},
  {label: panelLabels[3], bands: [sc98, sc00, sc02, sc04, sc06, sc08, sc10, sc12], out: scOut, unit: 0.01}
];

function collectPoints(p) {
  const pts = [];
  p.bands.forEach((arr, k) => {
    const s = segStart[k], e = segEnd[k], n = arr.length;
    arr.forEach((v, i) => pts.push([s + (e - s) * i / (n - 1), v * p.unit]));
  });
  p.out.forEach(d => pts.push([d[0], d[1]]));
  return pts;
}

const diamondType = {
  draw(ctx, size) {
    const r = Math.sqrt(size / 2);
    ctx.moveTo(0, -r); ctx.lineTo(r, 0); ctx.lineTo(0, r); ctx.lineTo(-r, 0); ctx.closePath();
  }
};
const marker = d3.symbol().type(diamondType).size(2 * 5 * 5);

const svg = d3.select("#c");
svg.append("rect").attr("width", W).attr("height", H).attr("fill", "#fff");

const x = d3.scaleLinear().domain(xDomain).range([plotLeft, plotRight]);
const fmt = v => (v < 0 ? "\u2212" : "") + Math.abs(v);

panels.forEach((p, k) => {
  const top = panelTop[k], bot = panelBottom[k];
  const y = d3.scaleLinear().domain(yDomains[k]).range([bot, top]);
  const g = svg.append("g").attr("class", "panel");
  const clipId = "clip" + k;
  g.append("clipPath").attr("id", clipId)
    .append("rect").attr("x", plotLeft).attr("y", top).attr("width", plotRight - plotLeft).attr("height", bot - top);

  g.append("g").attr("clip-path", `url(#${clipId})`)
    .selectAll("path").data(collectPoints(p)).join("path")
    .attr("transform", d => `translate(${x(d[0])},${y(d[1])})`)
    .attr("d", marker)
    .attr("fill", blue).attr("stroke", blue).attr("stroke-width", 0.6);

  const axB = d3.axisBottom(x).tickValues(xTicks).tickSizeInner(-8).tickSizeOuter(0).tickPadding(8)
    .tickFormat(k === 3 ? d3.format("d") : () => "");
  const axT = d3.axisTop(x).tickValues(xTicks).tickSizeInner(-8).tickSizeOuter(0).tickFormat(() => "");
  const axL = d3.axisLeft(y).tickValues(yTickValues[k]).tickSizeInner(-8).tickSizeOuter(0).tickPadding(7).tickFormat(fmt);
  const axR = d3.axisRight(y).tickValues(yTickValues[k]).tickSizeInner(-8).tickSizeOuter(0).tickFormat(() => "");

  const gB = g.append("g").attr("transform", `translate(0,${bot})`).call(axB);
  const gT = g.append("g").attr("transform", `translate(0,${top})`).call(axT);
  const gL = g.append("g").attr("transform", `translate(${plotLeft},0)`).call(axL);
  const gR = g.append("g").attr("transform", `translate(${plotRight},0)`).call(axR);
  [gB, gT, gL, gR].forEach(a => {
    a.select(".domain").remove();
    a.attr("font-family", "DejaVu Sans").attr("font-size", tickFont);
    a.selectAll(".tick line").attr("stroke", "#000").attr("stroke-width", 1.4);
    a.selectAll(".tick text").attr("fill", "#000");
  });
  gL.selectAll(".tick text").attr("dy", "0.36em");

  g.append("rect").attr("x", plotLeft).attr("y", top).attr("width", plotRight - plotLeft).attr("height", bot - top)
    .attr("fill", "none").attr("stroke", "#000").attr("stroke-width", 2);

  const cy = (top + bot) / 2;
  g.append("text").attr("x", 104).attr("y", cy)
    .attr("transform", `rotate(-90,104,${cy})`)
    .attr("text-anchor", "middle").attr("font-size", labelFont)
    .style("white-space", "pre")
    .text(p.label);

  if (k === 3) {
    g.append("text").attr("x", 188).attr("y", 877).attr("font-size", 24).text(sOffsetText);
  }
});

svg.append("text").attr("x", (plotLeft + plotRight) / 2).attr("y", 82)
  .attr("text-anchor", "middle").attr("font-size", titleFont).text(chartTitle);
svg.append("text").attr("x", (plotLeft + plotRight) / 2).attr("y", 1190)
  .attr("text-anchor", "middle").attr("font-size", labelFont).text(xLabel);
</script>
</body></html>
